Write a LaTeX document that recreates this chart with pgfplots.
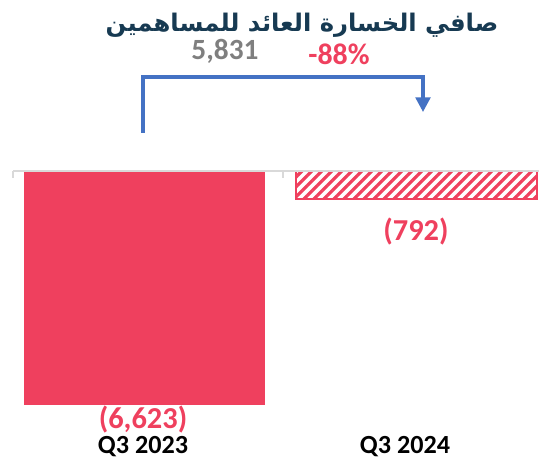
\documentclass[border=0pt]{standalone}
\usepackage{fontspec}
\setmainfont{Carlito}
\newfontfamily\arabicfont[Script=Arabic]{DejaVu Sans}
\TeXXeTstate=1
\usepackage{pgfplots}
\pgfplotsset{compat=1.18}
\usetikzlibrary{patterns.meta,arrows.meta}

\definecolor{barred}{HTML}{EF405E}
\definecolor{titlecol}{HTML}{173A52}
\definecolor{arrowblue}{HTML}{4472C4}
\definecolor{zerogray}{HTML}{D9D9D9}
\definecolor{numgray}{HTML}{7F7F7F}

\begin{document}
\begin{tikzpicture}[x=0.75pt,y=-0.75pt]
\path[use as bounding box] (0,0) rectangle (539,463);

\begin{axis}[
    at={(9.75pt,-303.75pt)}, anchor=south west,
    scale only axis,
    width=394.5pt, height=175.5pt,
    xmin=-0.4816, xmax=1.452,
    ymin=-6623, ymax=0,
    axis lines=none,
    ybar, bar width=0.886, bar shift=0pt,
]
% Q3 2023
\addplot[fill=barred, draw=none] coordinates {(0,-6623)};
% Q3 2024 (hatched)
\addplot[draw=barred, line width=1.5pt,
    pattern={Lines[angle=45,distance=5.3pt,line width=2.4pt]},
    pattern color=barred] coordinates {(1,-792)};
\end{axis}

% zero line and small ticks
\draw[zerogray, line width=1.5pt] (13,171) -- (539,171);
\draw[zerogray, line width=1.5pt] (13,171) -- (13,178);
\draw[zerogray, line width=1pt] (283,171) -- (283,178);

% title
\node[text=titlecol, font=\fontsize{18.2}{21}\selectfont\bfseries] at (302,25)
    {\arabicfont\beginR صافي الخسارة العائد للمساهمين\endR};

% change annotation
\draw[arrowblue, line width=2.5pt, -{Triangle[length=11pt,width=11pt]}]
    (143,133) -- (143,77) -- (423,77) -- (423,112);
\node[text=numgray, font=\fontsize{22}{24}\selectfont\bfseries] at (225,51) {5,831};
\node[text=barred, font=\fontsize{22.4}{24}\selectfont\bfseries] at (339,54) {-88\%};

% value labels
\node[text=barred, font=\fontsize{22.8}{24}\selectfont\bfseries] at (143,420) {(6,623)};
\node[text=barred, font=\fontsize{22.8}{24}\selectfont\bfseries] at (416,232) {(792)};

% category labels
\node[text=black, font=\fontsize{19.6}{22}\selectfont\bfseries] at (143,447) {Q3 2023};
\node[text=black, font=\fontsize{19.6}{22}\selectfont\bfseries] at (405,447) {Q3 2024};
\end{tikzpicture}
\end{document}
